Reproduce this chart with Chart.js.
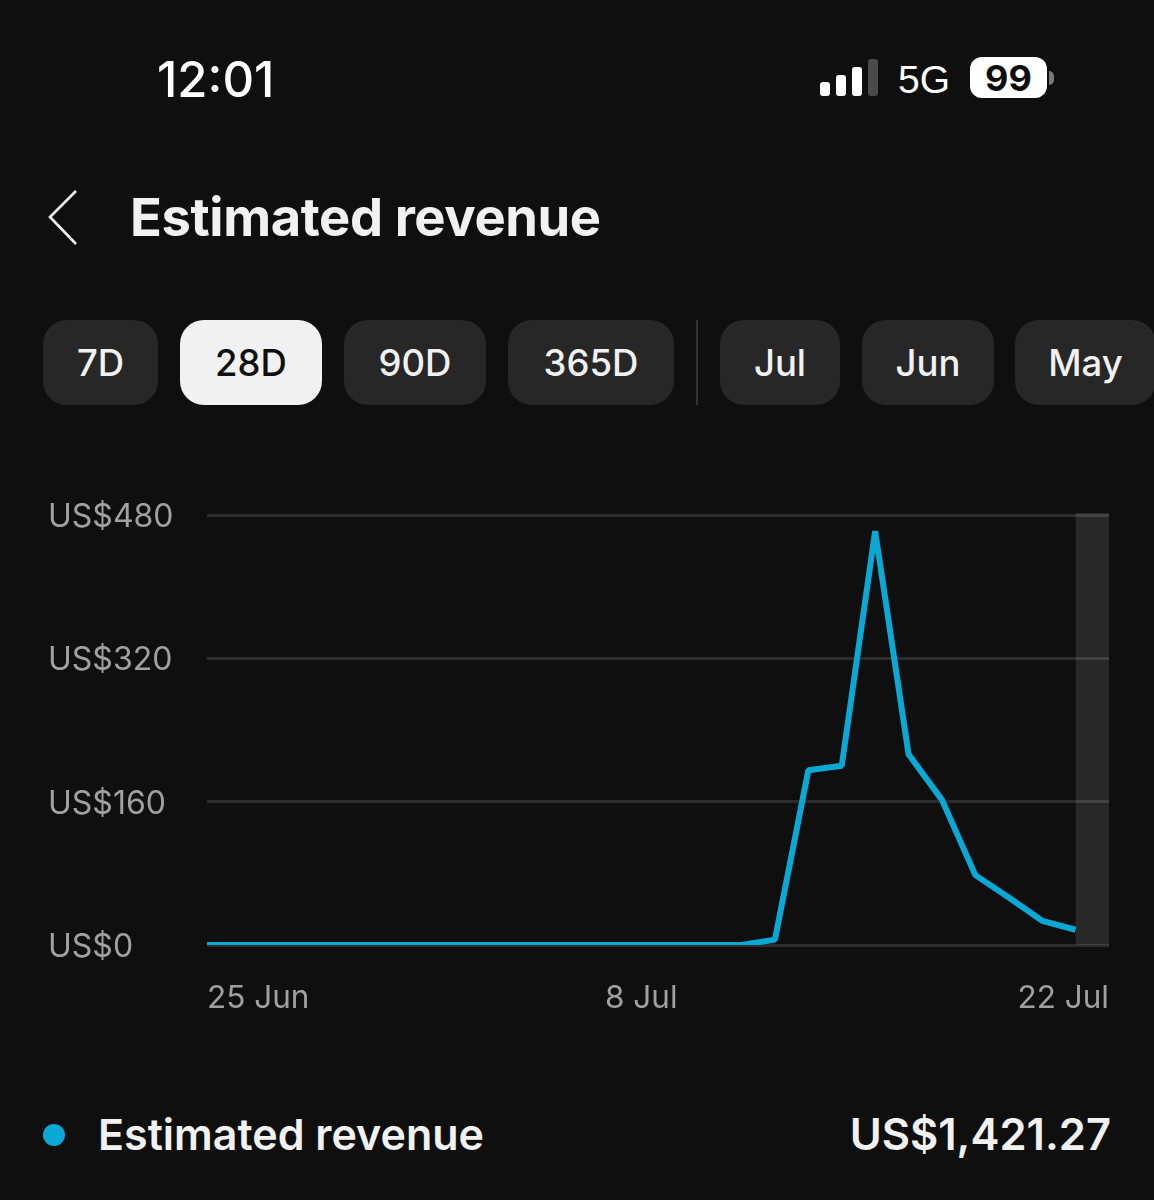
<!DOCTYPE html>
<html><head><meta charset="utf-8">
<script src="https://cdn.jsdelivr.net/npm/chart.js@4"></script>
<style>
html,body{margin:0;padding:0;background:#0f0f0f;width:1154px;height:1200px;overflow:hidden;font-family:Inter,Roboto,sans-serif;color:#f1f1f1}
.a{position:absolute;white-space:nowrap}
.chip{position:absolute;top:320px;height:85px;line-height:87px;border-radius:24px;background:#272727;text-align:center;font-size:36.5px;font-weight:500;color:#f1f1f1}
.chip.on{background:#f1f1f1;color:#0f0f0f;top:320px}
.bar{position:absolute;background:#fff;border-radius:3px;width:10px}
canvas{position:absolute;left:0;top:480px}
</style></head><body>
<div class="a" style="left:157px;top:50px;font-size:49px;line-height:60px;font-weight:500;color:#fff">12:01</div>
<div class="bar" style="left:820px;top:82px;height:14px"></div>
<div class="bar" style="left:836px;top:75px;height:21px"></div>
<div class="bar" style="left:852px;top:67px;height:29px"></div>
<div class="bar" style="left:868px;top:59px;height:37px;background:#4a4a4a"></div>
<div class="a" style="left:898px;top:58px;font-size:39px;line-height:44px;color:#fff;font-family:'Liberation Sans'">5G</div>
<div class="a" style="left:970px;top:57px;width:77px;height:41px;line-height:43px;background:#fff;border-radius:12px;text-align:center;color:#0f0f0f;font-size:36px;font-weight:700">99</div>
<div class="a" style="left:1049px;top:71px;width:5px;height:14px;background:#777;border-radius:0 5px 5px 0"></div>
<svg class="a" style="left:40px;top:185px" width="45" height="65"><path d="M36 6 L10 32 L36 59" fill="none" stroke="#f1f1f1" stroke-width="2.6"/></svg>
<div class="a" style="left:130px;top:184px;font-size:52.5px;line-height:66px;font-weight:700;color:#f1f1f1;letter-spacing:-.4px">Estimated revenue</div>
<div class="chip" style="left:43px;width:115px">7D</div>
<div class="chip on" style="left:180px;width:142px">28D</div>
<div class="chip" style="left:344px;width:142px">90D</div>
<div class="chip" style="left:508px;width:166px">365D</div>
<div class="a" style="left:696px;top:320px;width:2px;height:85px;background:#333"></div>
<div class="chip" style="left:720px;width:120px">Jul</div>
<div class="chip" style="left:862px;width:132px">Jun</div>
<div class="chip" style="left:1015px;width:141px">May</div>
<canvas id="c" width="1154" height="560"></canvas>
<div class="a" style="left:43px;top:1124px;width:22px;height:22px;border-radius:50%;background:#0aa8d4"></div>
<div class="a" style="left:98px;top:1105px;font-size:43px;line-height:58px;font-weight:600">Estimated revenue</div>
<div class="a" style="right:43px;top:1105px;font-size:43.5px;line-height:58px;font-weight:600">US$1,421.27</div>
<script>
const categories=['25 Jun','26 Jun','27 Jun','28 Jun','29 Jun','30 Jun','1 Jul','2 Jul','3 Jul','4 Jul','5 Jul','6 Jul','7 Jul','8 Jul','9 Jul','10 Jul','11 Jul','12 Jul','13 Jul','14 Jul','15 Jul','16 Jul','17 Jul','18 Jul','19 Jul','20 Jul','21 Jul','22 Jul'];
const revenue=[0,0,0,0,0,0,0,0,0,0,0,0,0,0,0,0,0,6,195,200,462,213,162,78,53,27,17,null];
const shownDates=['25 Jun','8 Jul','22 Jul'];
const yTicks=[0,160,320,480];
const pendingFrom='21 Jul';
const band={id:'band',beforeDraw(ch){
  const {ctx,scales:{x,y}}=ch;
  const l=x.getPixelForValue(categories.indexOf(pendingFrom));
  const r=x.getPixelForValue(categories.length-1);
  ctx.save();ctx.fillStyle='#282828';
  ctx.fillRect(l,y.getPixelForValue(480)-2,r-l,y.getPixelForValue(0)-y.getPixelForValue(480)+2);
  ctx.restore();
}};
new Chart(document.getElementById('c'),{
  type:'line',
  data:{labels:categories,datasets:[{label:'Estimated revenue',data:revenue,borderColor:'#0aa8d4',borderWidth:6,pointRadius:0,tension:0,borderJoinStyle:'bevel',borderCapStyle:'butt',spanGaps:false,clip:{left:0,top:10,right:0,bottom:0}}]},
  plugins:[band],
  options:{
    responsive:false,animation:false,
    layout:{padding:{left:48,right:45,top:35,bottom:0}},
    plugins:{legend:{display:false},tooltip:{enabled:false}},
    scales:{
      x:{offset:false,border:{display:false},grid:{display:false,drawTicks:false},
        afterFit(s){s.height=95;},
        ticks:{autoSkip:false,maxRotation:0,minRotation:0,align:'inner',padding:35,color:'#a0a0a0',font:{family:'Inter,Roboto,sans-serif',size:31.5},
          callback(v,i){const t=categories[i];return shownDates.includes(t)?t:null;}}},
      y:{min:0,max:480,border:{display:false},grid:{color:'rgba(255,255,255,0.12)',lineWidth:3,drawTicks:false},
        afterFit(s){s.width=159;},
        afterBuildTicks(s){s.ticks=yTicks.map(v=>({value:v}));},
        ticks:{crossAlign:'far',padding:0,labelOffset:2.5,color:'#a0a0a0',font:{family:'Inter,Roboto,sans-serif',size:32},callback:v=>'US$'+v}}
    }
  }
});
</script>
</body></html>
